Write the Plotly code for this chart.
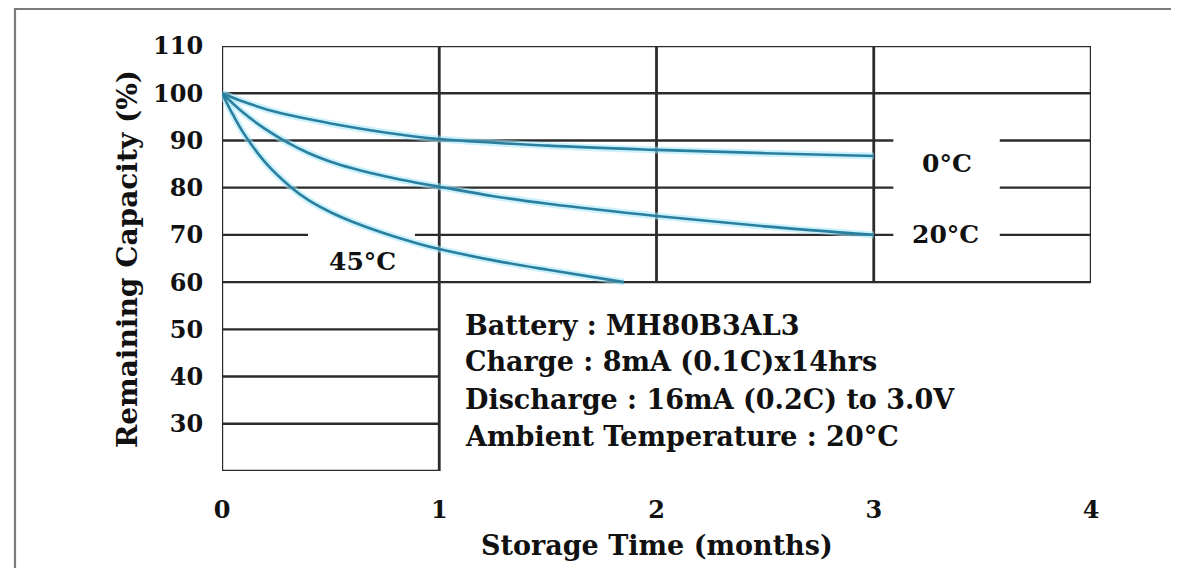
import plotly.graph_objects as go

# ---- data ----
t0_x = [0, 0.1, 0.25, 0.4, 0.5, 0.75, 1.0, 1.5, 2.0, 2.5, 3.0]
t0_y = [100, 98.2, 96.0, 94.5, 93.6, 91.7, 90.3, 88.9, 88.0, 87.3, 86.7]

t20_x = [0, 0.1, 0.2, 0.3, 0.4, 0.5, 0.6, 0.75, 0.9, 1.0, 1.25, 1.5, 2.0, 2.5, 3.0]
t20_y = [100, 95.8, 92.4, 89.6, 87.3, 85.5, 84.1, 82.4, 81.0, 80.2, 78.2, 76.6, 74.0, 71.8, 70.0]

t45_x = [0, 0.05, 0.1, 0.2, 0.32, 0.4, 0.5, 0.6, 0.75, 0.9, 1.0, 1.25, 1.5, 1.85]
t45_y = [100, 95.5, 91.5, 85.3, 80.0, 77.3, 74.8, 72.8, 70.3, 68.2, 67.0, 64.6, 62.6, 60.0]

x_ticks = [0, 1, 2, 3, 4]
y_ticks = [30, 40, 50, 60, 70, 80, 90, 100, 110]

series_labels = ["0°C", "20°C", "45°C"]
info_lines = [
    "Battery : MH80B3AL3",
    "Charge : 8mA (0.1C)x14hrs",
    "Discharge : 16mA (0.2C) to 3.0V",
    "Ambient Temperature : 20°C",
]

FONT = "DejaVu Serif"
GRID = "#2b2b2b"
CURVE = "#2a7f9f"
GLOW = "rgba(160,230,250,0.55)"

# page has an 8px body margin; keep the figure inside the window
OFF = 8
W, H = 1179 - OFF, 568 - OFF
# plot area in page pixels: x 222..1091, y 46..471
ML, MT = 222 - OFF, 46 - OFF
MR = W - (1091 - OFF)
MB = H - (471 - OFF)
pw = W - ML - MR
ph = H - MT - MB

def px_to_paper_x(px):
    return (px - 222) / pw

def py_to_paper_y(py):
    return (471 - py) / ph

fig = go.Figure()

series = [(t0_x, t0_y), (t20_x, t20_y), (t45_x, t45_y)]
for xs, ys in series:
    fig.add_trace(go.Scatter(x=xs, y=ys, mode="lines",
                             line=dict(color=GLOW, width=7, shape="spline", smoothing=1.0),
                             hoverinfo="skip", showlegend=False))
for xs, ys in series:
    fig.add_trace(go.Scatter(x=xs, y=ys, mode="lines",
                             line=dict(color=CURVE, width=2.6, shape="spline", smoothing=1.0),
                             showlegend=False))

# ---- irregular chart grid (axis structure) ----
shapes = []
def seg(x0, y0, x1, y1, w=2.4):
    shapes.append(dict(type="line", xref="x", yref="y", x0=x0, y0=y0, x1=x1, y1=y1,
                       line=dict(color=GRID, width=w), layer="below"))

gap_l, gap_r = 3.09, 3.58      # gap for right labels
g45_l, g45_r = 0.396, 0.888    # gap for 45°C label

seg(0, 20, 0, 110)
seg(1, 20, 1, 110, 2.8)
seg(2, 60, 2, 110, 2.8)
seg(3, 60, 3, 110, 2.8)
seg(4, 60, 4, 110)
seg(0, 110, 4, 110)
seg(0, 100, 4, 100)
for yv in (90, 80):
    seg(0, yv, gap_l, yv)
    seg(gap_r, yv, 4, yv)
seg(0, 70, g45_l, 70)
seg(g45_r, 70, gap_l, 70)
seg(gap_r, 70, 4, 70)
seg(0, 60, 4, 60)
for yv in (50, 40, 30):
    seg(0, yv, 1, yv)
seg(0, 20, 1, 20)

# outer frame (top & left border of the datasheet box)
fx0 = px_to_paper_x(15)
fy_top = py_to_paper_y(9)
shapes.append(dict(type="path", xref="paper", yref="paper",
                   path=f"M {fx0},-0.4 L {fx0},{fy_top} L 1.3,{fy_top}",
                   line=dict(color="#7a7a7a", width=2.2)))

annotations = []
def txt(x, y, s, size=25, xanchor="center", xref="x", yref="y", angle=0):
    annotations.append(dict(x=x, y=y, xref=xref, yref=yref, text=f"<b>{s}</b>",
                            showarrow=False, xanchor=xanchor, yanchor="middle",
                            textangle=angle,
                            font=dict(family=FONT, size=size, color="#111")))

txt(3.337, 85.2, series_labels[0], size=25)
txt(3.33, 70.0, series_labels[1], size=25)
txt(0.645, 64.3, series_labels[2], size=25)

info_y = [50.9, 43.1, 35.2, 27.4]
for s, yv in zip(info_lines, info_y):
    txt(1.109, yv, s, size=27, xanchor="left")

txt(2, py_to_paper_y(545), "Storage Time (months)", size=27, yref="paper")
txt(px_to_paper_x(127), py_to_paper_y(259), "Remaining Capacity (%)", size=28,
    xref="paper", yref="paper", angle=-90)

tickfont = dict(family=FONT, size=24, color="#111", weight="bold")
fig.update_layout(
    width=W, height=H,
    margin=dict(l=ML, r=MR, t=MT, b=MB, pad=0),
    paper_bgcolor="white", plot_bgcolor="white",
    shapes=shapes, annotations=annotations,
    xaxis=dict(range=[0, 4], tickvals=x_ticks, ticktext=[str(v) for v in x_ticks],
               showgrid=False, zeroline=False, showline=False,
               ticks="outside", ticklen=17, tickcolor="rgba(0,0,0,0)",
               tickfont=tickfont, fixedrange=True),
    yaxis=dict(range=[20, 110], tickvals=y_ticks, ticktext=[str(v) for v in y_ticks],
               showgrid=False, zeroline=False, showline=False,
               ticks="outside", ticklen=13, tickcolor="rgba(0,0,0,0)",
               tickfont=tickfont, fixedrange=True),
)

fig.write_html("out.html")
